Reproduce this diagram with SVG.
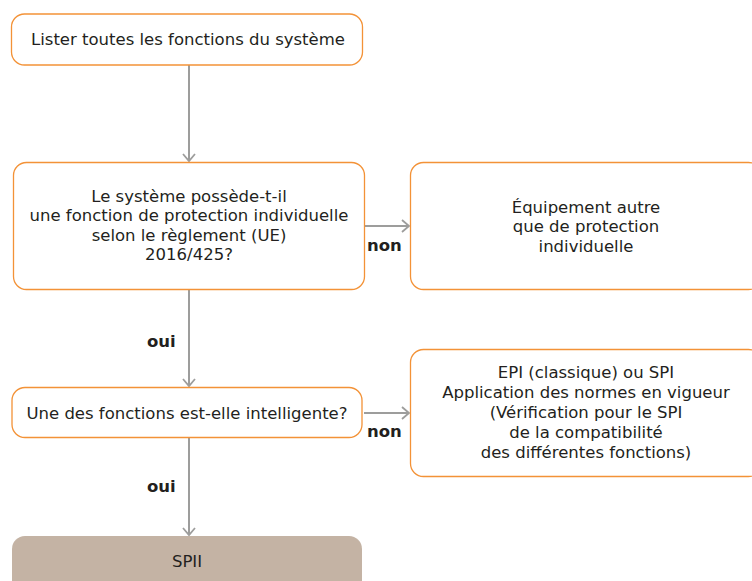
<svg xmlns="http://www.w3.org/2000/svg" width="752" height="581" viewBox="0 0 752 581">
<style>
.box{fill:#fff;stroke:#f39237;stroke-width:1.3}
.final{fill:#c4b3a4;stroke:none}
.t{font-family:"DejaVu Sans",sans-serif;font-size:16.5px;fill:#231f20;text-anchor:middle}
.lbl{font-family:"DejaVu Sans",sans-serif;font-size:16.5px;font-weight:bold;fill:#231f20}
.c{stroke:#9d9d9c;stroke-width:2;fill:none}
</style>
<defs>
<marker id="ah" markerWidth="12" markerHeight="14" refX="9" refY="7" orient="auto" markerUnits="userSpaceOnUse">
<path d="M2,1 L9,7 L2,13" fill="none" stroke="#9d9d9c" stroke-width="1.8"/>
</marker>
</defs>
<g id="connectors">
<line class="c" x1="189" y1="65" x2="189" y2="161" marker-end="url(#ah)"/>
<line class="c" x1="364" y1="226" x2="409" y2="226" marker-end="url(#ah)"/>
<line class="c" x1="189" y1="290" x2="189" y2="386" marker-end="url(#ah)"/>
<line class="c" x1="364" y1="413" x2="409" y2="413" marker-end="url(#ah)"/>
<line class="c" x1="189" y1="438" x2="189" y2="535" marker-end="url(#ah)"/>
<text class="lbl" x="367" y="251">non</text>
<text class="lbl" x="147" y="347">oui</text>
<text class="lbl" x="367" y="437">non</text>
<text class="lbl" x="147" y="492">oui</text>
</g>
<g id="n1">
<rect class="box" x="11.5" y="14" width="351" height="51" rx="13"/>
<text class="t" x="188" y="45">Lister toutes les fonctions du système</text>
</g>
<g id="n2">
<rect class="box" x="13.5" y="162.5" width="351" height="127" rx="13"/>
<text class="t" x="189" y="202">Le système possède-t-il<tspan x="189" dy="19.3">une fonction de protection individuelle</tspan><tspan x="189" dy="19.3">selon le règlement (UE)</tspan><tspan x="189" dy="19.3">2016/425?</tspan></text>
</g>
<g id="n3">
<rect class="box" x="410.5" y="162.5" width="351" height="127" rx="13"/>
<text class="t" x="586" y="213">Équipement autre<tspan x="586" dy="19.3">que de protection</tspan><tspan x="586" dy="19.3">individuelle</tspan></text>
</g>
<g id="n4">
<rect class="box" x="12" y="387.5" width="350" height="50" rx="13"/>
<text class="t" x="187" y="419">Une des fonctions est-elle intelligente?</text>
</g>
<g id="n5">
<rect class="box" x="410.5" y="349.5" width="351" height="127" rx="13"/>
<text class="t" x="586" y="378">EPI (classique) ou SPI<tspan x="586" dy="20">Application des normes en vigueur</tspan><tspan x="586" dy="20">(Vérification pour le SPI</tspan><tspan x="586" dy="20">de la compatibilité</tspan><tspan x="586" dy="20">des différentes fonctions)</tspan></text>
</g>
<g id="n6">
<rect class="final" x="12" y="536" width="350" height="60" rx="13"/>
<text class="t" x="187" y="567">SPII</text>
</g>
</svg>
